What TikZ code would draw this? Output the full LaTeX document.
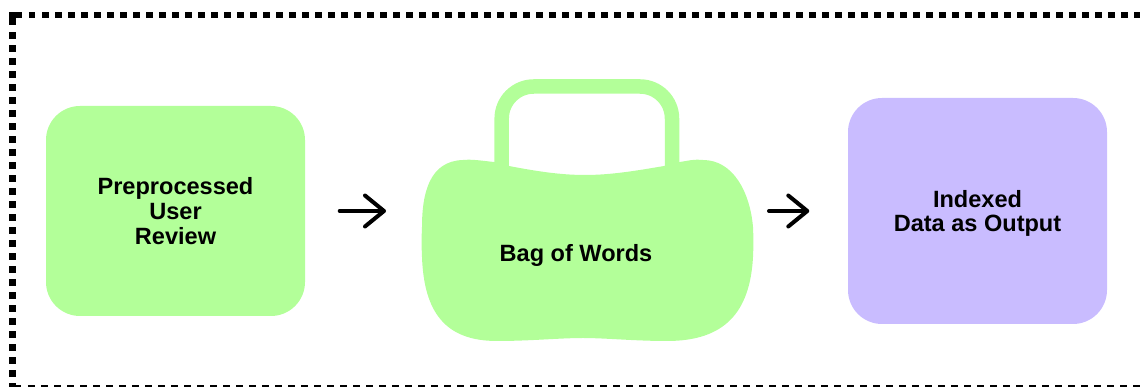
\documentclass[tikz,border=0pt]{standalone}
\usepackage{fontspec}
\setmainfont{Liberation Sans}
\definecolor{reviewgreen}{RGB}{179,255,153}
\definecolor{outputviolet}{RGB}{201,188,255}
\usetikzlibrary{arrows.meta}
\tikzset{
  stagebox/.style={rounded corners=0.34cm, inner sep=0pt, minimum width=2.59cm, align=center},
  stagetext/.style={font=\fontsize{6.7}{7}\selectfont\bfseries, text=black},
  flowarrow/.style={line width=0.04cm, line cap=round,
    -{Straight Barb[length=0.19cm, width=0.31cm, round]}},
  borderdash/.style={line width=0.065cm, dash pattern=on 0.065cm off 0.065cm},
}

\begin{document}
\begin{tikzpicture}
        \useasboundingbox (0,0) rectangle (11.4,3.87);
        \clip (0,0) rectangle (11.4,3.87);
        \draw[borderdash] (0.29,3.722) -- (11.45,3.722);
        \draw[borderdash] (0.123,3.547) -- (0.123,-0.05);
        \draw[borderdash] (0.15,-0.01) -- (11.45,-0.01);
        \draw[line width=0.065cm] (0.123,3.62) |- (0.22,3.722);
        \node[stagebox, stagetext, fill=reviewgreen, minimum height=2.10cm] (review)
          at (1.755,1.76) {Preprocessed\\User\\Review};
        \node[stagebox, fill=outputviolet, minimum height=2.26cm,
          label={[stagetext, align=center, yshift=-0.025cm]center:Indexed\\[-0.4pt]Data as Output}] (indexed)
          at (9.775,1.76) {};
        \draw[reviewgreen, line width=0.145cm, rounded corners=0.32cm]
          (5.017,2.15) -- (5.017,3.005) -- (6.72,3.005) -- (6.72,2.15);
        \fill[reviewgreen] (4.94,2.25)
          .. controls (4.84,2.26) and (4.72,2.28) .. (4.63,2.27)
          .. controls (4.30,2.26) and (4.22,1.95) .. (4.22,1.60)
          .. controls (4.215,1.50) and (4.215,1.40) .. (4.22,1.30)
          .. controls (4.24,0.75) and (4.45,0.46) .. (4.97,0.46)
          .. controls (5.30,0.46) and (5.60,0.49) .. (5.83,0.49)
          .. controls (6.05,0.49) and (6.35,0.46) .. (6.67,0.46)
          .. controls (7.25,0.46) and (7.50,0.75) .. (7.53,1.30)
          .. controls (7.535,1.40) and (7.535,1.50) .. (7.53,1.60)
          .. controls (7.50,1.95) and (7.33,2.27) .. (7.03,2.27)
          .. controls (6.93,2.28) and (6.87,2.26) .. (6.80,2.25)
          -- (6.64,2.21)
          .. controls (6.35,2.16) and (6.10,2.12) .. (5.85,2.12)
          .. controls (5.60,2.12) and (5.35,2.16) .. (5.09,2.21)
          -- cycle;
        \node[stagetext] (bag) at (5.76,1.32) {Bag of Words};
        \coordinate (bagwest) at (4.22,1.76);
        \coordinate (bageast) at (7.53,1.76);
        \draw[flowarrow, shorten <=0.34cm, shorten >=0.36cm] (review.east) -- (bagwest);
        \draw[flowarrow, shorten <=0.16cm, shorten >=0.38cm] (bageast) -- (indexed.west);
      \end{tikzpicture}
\end{document}
